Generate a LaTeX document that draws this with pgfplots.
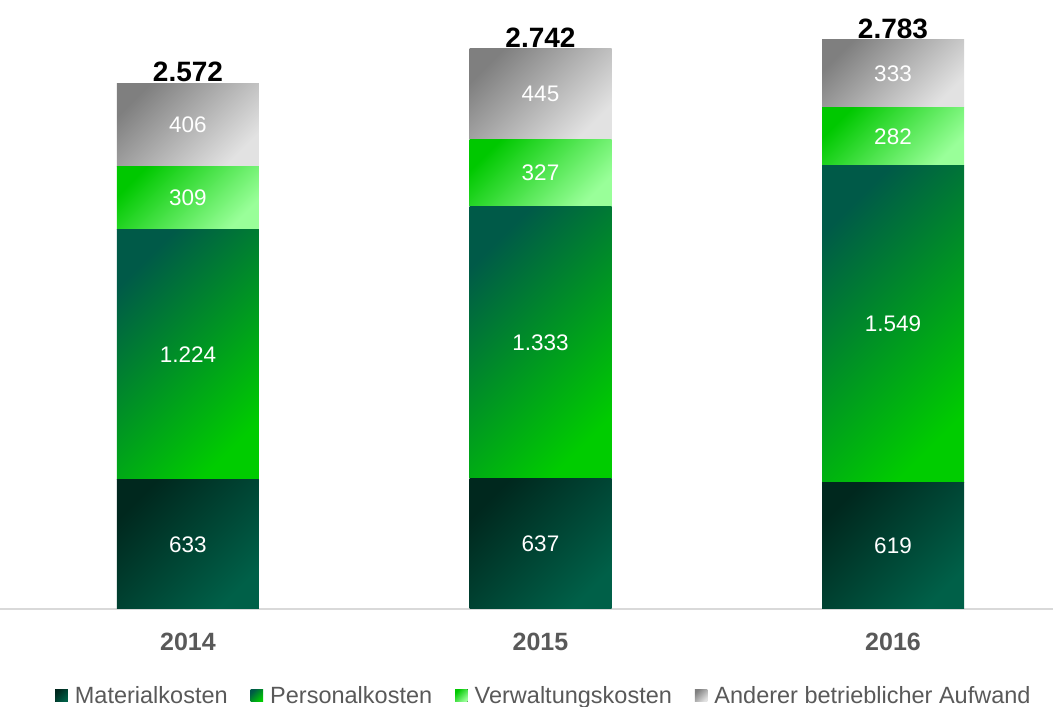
\documentclass[border=0pt]{standalone}
\usepackage{fontspec}
\setmainfont{Liberation Sans}
\usepackage{pgfplots}
\pgfplotsset{compat=1.18}
\definecolor{matA}{HTML}{00281E}
\definecolor{matB}{HTML}{006048}
\definecolor{perA}{HTML}{005A48}
\definecolor{perB}{HTML}{00CC00}
\definecolor{verA}{HTML}{00C800}
\definecolor{verB}{HTML}{99FF99}
\definecolor{andA}{HTML}{7F7F7F}
\definecolor{andB}{HTML}{E2E2E2}
\definecolor{tickgray}{HTML}{595959}
\definecolor{baseline}{HTML}{D9D9D9}
\begin{document}
\begin{tikzpicture}
\useasboundingbox (0,-98pt) rectangle (1053pt,609pt);
\pgfplotsset{common/.style={scale only axis, width=1053pt, height=609pt,
  xmin=-0.5333, xmax=2.4539, ymin=0, ymax=2978},
  bars/.style={common, hide axis, ybar stacked, bar width=142pt},
  myleg/.style={legend image code/.code={\fill[##1] (0pt,-6pt) rectangle (12.5pt,6.5pt);}},
  mat/.style={draw=none, left color=matA, right color=matB, shading angle=45, myleg},
  per/.style={draw=none, left color=perA, right color=perB, shading angle=45, myleg},
  ver/.style={draw=none, left color=verA, right color=verB, shading angle=45, myleg},
  and/.style={draw=none, left color=andA, right color=andB, shading angle=45, myleg}}
% baseline, ticks and legend (bars of 2014)
\begin{axis}[common,
  ybar stacked, bar width=142pt,
  axis x line*=bottom, axis y line=none,
  x axis line style={draw=baseline, line width=1.5pt, -},
  xtick={0,1,2}, xticklabels={2014,2015,2016}, major tick length=0pt,
  xticklabel style={font=\fontsize{25}{30}\selectfont\bfseries, text=tickgray, yshift=-21pt},
  ytick=\empty,
  legend columns=4,
  legend style={at={(0.5166,-0.161)}, anchor=south, draw=none, fill=none, inner sep=0pt,
    font=\fontsize{23.5}{27}\selectfont, text=tickgray,
    /tikz/every odd column/.append style={column sep=5pt},
    /tikz/every even column/.append style={column sep=21pt}},
]
\addplot[mat] coordinates {(0,633)};
\addplot[per] coordinates {(0,1224)};
\addplot[ver] coordinates {(0,309)};
\addplot[and] coordinates {(0,406)};
\legend{Materialkosten,Personalkosten,Verwaltungskosten,Anderer betrieblicher Aufwand}
\end{axis}
% bars of 2015
\begin{axis}[bars]
\addplot[mat] coordinates {(1,637)};
\addplot[per] coordinates {(1,1333)};
\addplot[ver] coordinates {(1,327)};
\addplot[and] coordinates {(1,445)};
\end{axis}
% bars of 2016
\begin{axis}[bars]
\addplot[mat] coordinates {(2,619)};
\addplot[per] coordinates {(2,1549)};
\addplot[ver] coordinates {(2,282)};
\addplot[and] coordinates {(2,333)};
\end{axis}
% value labels
\begin{axis}[common, hide axis, clip=false,
  nodes near coords, point meta=explicit symbolic]
\addplot[draw=none, mark=none, nodes near coords style={anchor=center, font=\fontsize{22.5}{26}\selectfont, text=white}]
  coordinates {(0,316.5)[633] (1,318.5)[637] (2,309.5)[619]
  (0,1245)[1.224] (1,1303.5)[1.333] (2,1393.5)[1.549]
  (0,2011.5)[309] (1,2133.5)[327] (2,2309)[282]
  (0,2369)[406] (1,2519.5)[445] (2,2616.5)[333]};
\addplot[draw=none, mark=none, nodes near coords style={anchor=south, inner sep=1pt, font=\fontsize{28}{32}\selectfont\bfseries, text=black}]
  coordinates {(0,2572)[2.572] (1,2742)[2.742] (2,2783)[2.783]};
\end{axis}
\end{tikzpicture}
\end{document}
